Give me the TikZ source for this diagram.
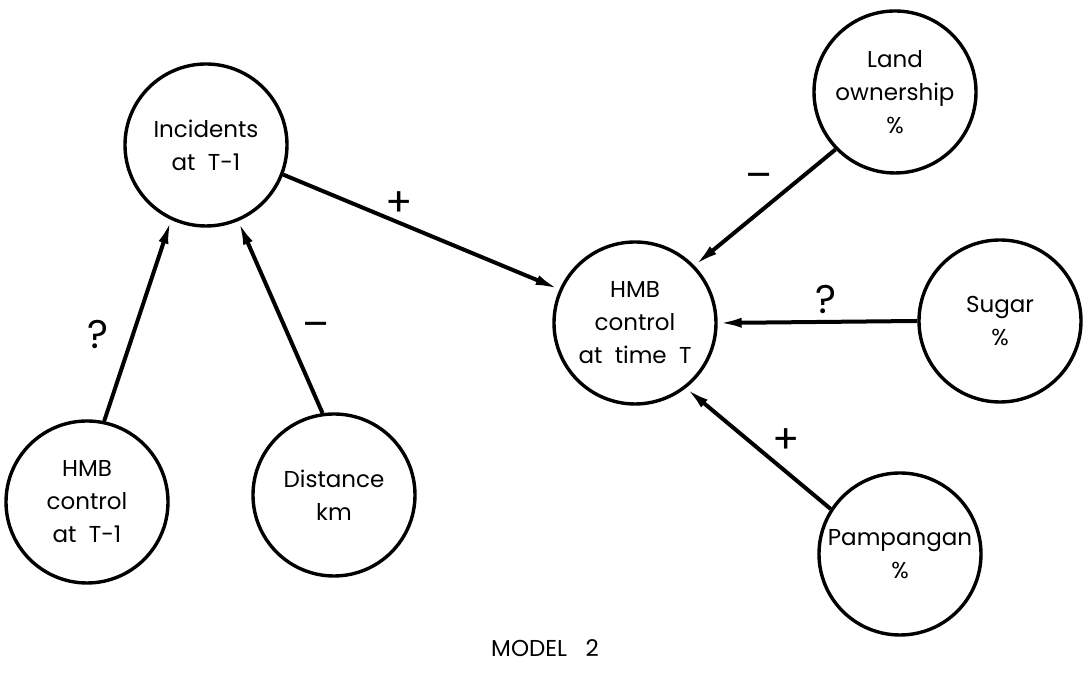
\documentclass[tikz,border=0pt]{standalone}
\usepackage{fontspec}
\setmainfont{Poppins}
\usetikzlibrary{positioning,arrows.meta}
\tikzset{ARROW/.style={line width=2pt, -{Latex[length=12pt,width=5pt]}}}
\tikzset{FACTOR/.style={circle, draw, line width=1.7pt, minimum size=81pt, inner sep=0pt, align=center, font=\fontsize{11.5}{16.5}\selectfont}}
\tikzset{SIGN/.style={font=\fontsize{20}{20}\selectfont, inner sep=1pt}}

\begin{document}
\begin{tikzpicture}[x=0.5pt,y=0.5pt]
    \useasboundingbox (0,0) rectangle (1088,673);

    % causes on the left
    \node[FACTOR] (n_incidents) at (206,528) {Incidents\\at\ \ T-1};
    \node[FACTOR] (n_hmb_prev) at (87,171) {HMB\\control\\at\ \ T-1};
    \node[FACTOR] (n_distance) at (334,178) {Distance\\km};

    % the outcome and its causes on the right
    \node[FACTOR] (n_hmb_now) at (635,350) {HMB\\control\\at\ \ time\ \ T};
    \node[FACTOR] (n_land) at (895,581) {Land\\ownership\\\%};
    \node[FACTOR] (n_sugar) at (1000,352) {Sugar\\\%};
    \node[FACTOR] (n_pampangan) at (900,119) {Pampangan\\\%};

    \node[font=\fontsize{11.5}{15}\selectfont] (n_model) at (545,25) {MODEL\ \ \ 2};

    \draw[ARROW] (n_hmb_prev.78) -- (n_incidents.-115) node[SIGN,pos=.43,left=10pt]{?};
    \draw[ARROW] (n_distance.98) -- (n_incidents.-67) node[SIGN,pos=.43,right=6pt]{--};
    \draw[ARROW] (n_incidents.-21.5) -- (n_hmb_now.156) node[SIGN,pos=.42,above=1pt]{+};
    \draw[ARROW] (n_land.-136) -- (n_hmb_now.44) node[SIGN,pos=.4,above left=2pt]{--};
    \draw[ARROW] (n_sugar.180) -- (n_hmb_now.0) node[SIGN,pos=.46,above=2pt]{?};
    \draw[ARROW] (n_pampangan.147) -- (n_hmb_now.-52) node[SIGN,pos=.43,above right=0pt]{+};
\end{tikzpicture}
\end{document}
